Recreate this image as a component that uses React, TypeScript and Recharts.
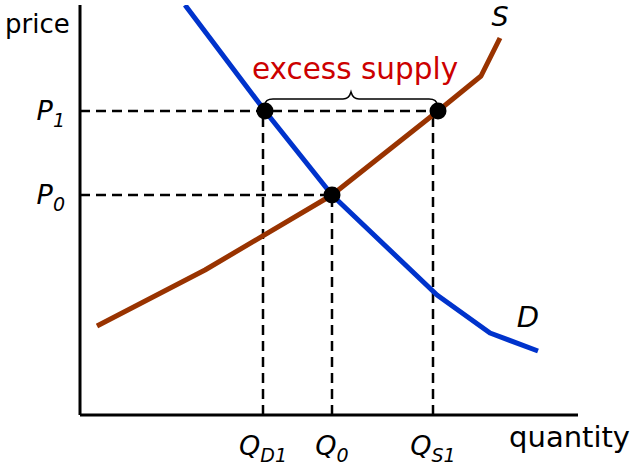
import {
  ComposedChart,
  Line,
  Scatter,
  XAxis,
  YAxis,
  ReferenceLine,
  ReferenceDot,
  Label,
} from "recharts";

// quantity / price (axis origin = 0,0)
const demandQ = [105, 185, 252, 357, 410, 458];
const demandP = [410, 304, 220, 120, 82, 64];
const supplyQ = [17, 125, 252, 358, 401, 420];
const supplyP = [89, 145, 220, 304, 339, 377];

const pointQ = [185, 252, 358];
const pointP = [304, 220, 304];

const quantityTicks = [183, 252, 353];
const quantityTickLabels = [
  ["Q", "D1"],
  ["Q", "0"],
  ["Q", "S1"],
];
const priceTicks = [220, 304];
const priceTickLabels = [
  ["P", "0"],
  ["P", "1"],
];

// dashed guides: [x1, y1, x2, y2]
const guidesH = [
  [0, 304, 358, 304],
  [0, 220, 252, 220],
];
const guidesV = [
  [183, 0, 183, 304],
  [252, 0, 252, 220],
  [353, 0, 353, 304],
];

const brace = { from: 185, to: 357, level: 316 };

const demand = demandQ.map((q, i) => ({ q, p: demandP[i] }));
const supply = supplyQ.map((q, i) => ({ q, p: supplyP[i] }));
const points = pointQ.map((q, i) => ({ q, p: pointP[i] }));

const FONT = "'DejaVu Sans', Verdana, sans-serif";

function QTick(props: any) {
  const { x, y, payload } = props;
  const idx = quantityTicks.indexOf(payload.value);
  const [main, sub] = quantityTickLabels[idx] ?? ["", ""];
  return (
    <text x={x} y={y + 32} textAnchor="middle" fontSize={27} fontStyle="italic" fill="#000">
      <tspan>{main}</tspan>
      <tspan dy={7} fontSize={19}>
        {sub}
      </tspan>
    </text>
  );
}

function PTick(props: any) {
  const { x, y, payload } = props;
  const idx = priceTicks.indexOf(payload.value);
  const [main, sub] = priceTickLabels[idx] ?? ["", ""];
  return (
    <text x={x - 7} y={y + 9} textAnchor="end" fontSize={27} fontStyle="italic" fill="#000">
      <tspan>{main}</tspan>
      <tspan dy={7} fontSize={19}>
        {sub}
      </tspan>
    </text>
  );
}

function Brace(props: any) {
  const { x1, x2, y1 } = props;
  const y = y1;
  const mid = (x1 + x2) / 2;
  const d = `M${x1},${y + 6} Q${x1},${y} ${x1 + 8},${y} L${mid - 8},${y} Q${mid - 2},${y} ${mid},${y - 7} Q${mid + 2},${y} ${mid + 8},${y} L${x2 - 8},${y} Q${x2},${y} ${x2},${y + 6}`;
  return (
    <g>
      <path d={d} fill="none" stroke="#000" strokeWidth={1.5} />
      <text x={mid + 4} y={y - 20} textAnchor="middle" fontSize={29.5} fill="#cc0000">
        excess supply
      </text>
    </g>
  );
}

export default function App() {
  return (
    <div
      style={{
        position: "absolute",
        left: 0,
        top: 0,
        width: 639,
        height: 472,
        background: "#fff",
        fontFamily: FONT,
      }}
    >
      <ComposedChart
        width={639}
        height={472}
        margin={{ top: 5, right: 61, bottom: 7, left: 0 }}
        style={{ fontFamily: FONT, overflow: "visible" }}
      >
        <XAxis
          type="number"
          dataKey="q"
          domain={[0, 498]}
          allowDataOverflow
          ticks={quantityTicks}
          tick={<QTick />}
          tickLine={false}
          axisLine={{ stroke: "#000", strokeWidth: 3 }}
          height={50}
        >
          <Label
            content={(p: any) => (
              <text
                x={p.viewBox.x + p.viewBox.width + 52}
                y={p.viewBox.y + 32}
                textAnchor="end"
                fontSize={29}
                fill="#000"
              >
                quantity
              </text>
            )}
          />
        </XAxis>
        <YAxis
          type="number"
          dataKey="p"
          domain={[0, 410]}
          allowDataOverflow
          ticks={priceTicks}
          tick={<PTick />}
          tickLine={false}
          axisLine={{ stroke: "#000", strokeWidth: 3 }}
          width={80}
        >
          <Label
            content={(p: any) => (
              <text x={5} y={p.viewBox.y + 28} fontSize={26} fill="#000">
                price
              </text>
            )}
          />
        </YAxis>

        {guidesH.concat(guidesV).map(([x1, y1, x2, y2], i) => (
          <ReferenceLine
            key={i}
            segment={[
              { x: x1, y: y1 },
              { x: x2, y: y2 },
            ]}
            stroke="#000"
            strokeWidth={2.5}
            strokeDasharray="10 6"
            ifOverflow="visible"
          />
        ))}

        <Line
          data={supply}
          dataKey="p"
          stroke="#993300"
          strokeWidth={5}
          strokeLinejoin="round"
          dot={false}
          isAnimationActive={false}
        />
        <Line
          data={demand}
          dataKey="p"
          stroke="#0033cc"
          strokeWidth={5}
          strokeLinejoin="round"
          dot={false}
          isAnimationActive={false}
        />
        <Scatter
          data={points}
          dataKey="p"
          fill="#000"
          isAnimationActive={false}
          shape={(p: any) => <circle cx={p.cx} cy={p.cy} r={8.5} fill="#000" />}
        />

        <ReferenceLine
          segment={[
            { x: brace.from, y: brace.level },
            { x: brace.to, y: brace.level },
          ]}
          shape={<Brace />}
          ifOverflow="visible"
        />

        <ReferenceDot
          x={supplyQ[supplyQ.length - 1]}
          y={supplyP[supplyP.length - 1]}
          ifOverflow="visible"
          shape={(p: any) => (
            <text x={p.cx} y={p.cy - 12} textAnchor="middle" fontSize={27} fontStyle="italic" fill="#000">
              S
            </text>
          )}
        />
        <ReferenceDot
          x={demandQ[demandQ.length - 1]}
          y={demandP[demandP.length - 1]}
          ifOverflow="visible"
          shape={(p: any) => (
            <text x={p.cx - 10} y={p.cy - 24} textAnchor="middle" fontSize={29} fontStyle="italic" fill="#000">
              D
            </text>
          )}
        />
      </ComposedChart>
    </div>
  );
}
